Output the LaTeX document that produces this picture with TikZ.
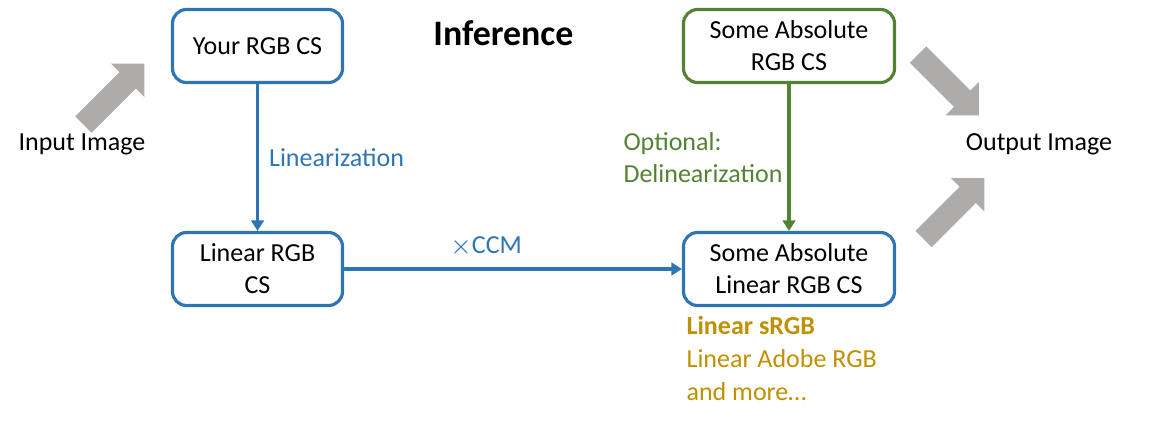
\documentclass[tikz,border=0pt]{standalone}
\usepackage{fontspec}
\setmainfont{Carlito}
\usepackage{tikz}
\usetikzlibrary{arrows.meta}
\definecolor{boxblue}{HTML}{2E75B6}
\definecolor{boxgreen}{HTML}{548235}
\definecolor{gold}{HTML}{BF9000}
\definecolor{arrowgray}{HTML}{AEABAB}

\begin{document}
\begin{tikzpicture}
            [line width=0.9pt, >={Triangle[width=3.6pt,length=3pt]},
             font=\fontsize{7.4}{9.1}\selectfont,
             csbox/.style={draw, rounded corners=1.4mm, align=center, inner sep=0pt,
                           minimum height=0.73cm},
             bigarrow/.style={fill=arrowgray}]
            \useasboundingbox (0, 0) rectangle (11.58, -4.24);
            \node (title) at (5.035, -0.335) {\fontsize{10.2}{12}\selectfont\bfseries Inference};
            \node [csbox, boxblue, text=black, minimum width=1.70cm] (yours) at (2.575, -0.46) {Your RGB CS};
            \node [csbox, boxblue, text=black, minimum width=1.70cm] (linear) at (2.575, -2.69) {Linear RGB\\CS};
            \node [csbox, boxgreen, text=black, minimum width=2.11cm] (absolute) at (7.89, -0.46) {Some Absolute\\RGB CS};
            \node [csbox, boxblue, text=black, minimum width=2.11cm] (abslinear) at (7.89, -2.69) {Some Absolute\\Linear RGB CS};
            \node (input) at (0.82, -1.445) {Input Image};
            \node (output) at (10.39, -1.445) {Output Image};
            \node [anchor=north west, align=left, text=gold, inner sep=0pt,
                   font=\fontsize{7.4}{9.35}\selectfont] (examples) at (6.85, -3.15)
                {\textbf{Linear sRGB}\\Linear Adobe RGB\\and more\dots};
            \draw [->, boxblue] (yours) -- (linear) node [midway, right, text=boxblue, inner sep=1mm] {Linearization};
            \draw [->, boxgreen] (absolute) -- (abslinear)
                node [midway, left, align=left, text=boxgreen, inner sep=0.5mm] {Optional:\\Delinearization};
            \draw [->, boxblue] (linear) -- (abslinear) node [pos=0.42, above, text=boxblue, inner sep=1.1mm] {$\times$CCM};
            % block arrows in and out
            \foreach \tail/\angle in {{(0.835, -1.245)}/45, {(9.18, -0.545)}/-45, {(9.235, -2.39)}/45}
                \fill [bigarrow, shift={\tail}, rotate=\angle]
                    (0, -0.115) -- (0.625, -0.115) -- (0.625, -0.235) -- (0.86, 0)
                    -- (0.625, 0.235) -- (0.625, 0.115) -- (0, 0.115) -- cycle;
        \end{tikzpicture}
\end{document}
